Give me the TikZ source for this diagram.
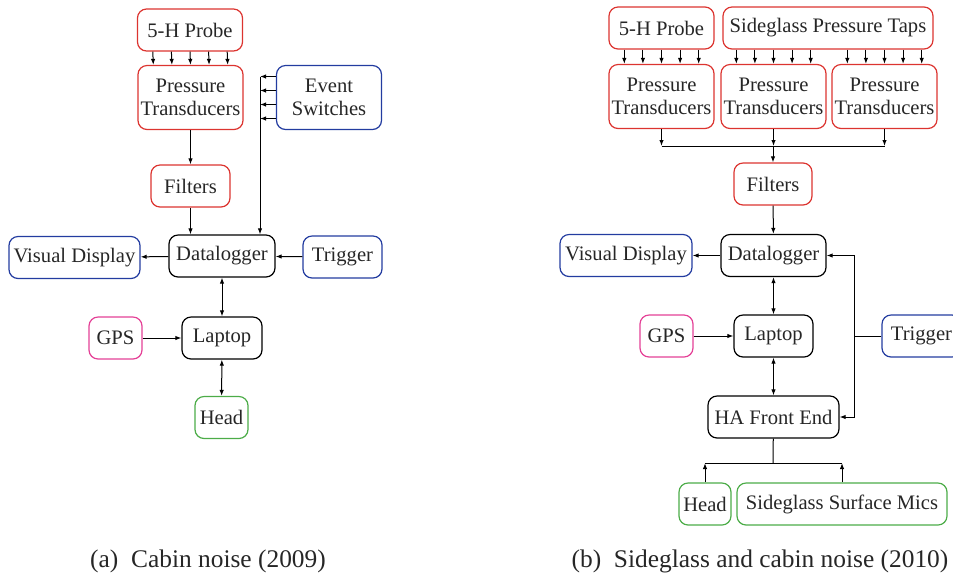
\documentclass[tikz,border=0pt]{standalone}
\usepackage{fontspec}
\setmainfont{Liberation Serif}
\usetikzlibrary{arrows.meta}
\definecolor{boxred}{RGB}{220,52,48}
\definecolor{boxblue}{RGB}{35,60,160}
\definecolor{boxpink}{RGB}{228,64,150}
\definecolor{boxgreen}{RGB}{76,172,72}

\begin{document}
\begin{tikzpicture}[
  x=0.5pt,
  y=-0.5pt,
  unit/.style={
    draw,
    rounded corners=4.5pt,
    line width=0.6pt,
    align=center,
    inner sep=1pt,
    minimum height=21pt,
    text=black!85,
    font=\fontsize{10.3}{11.3}\selectfont
  },
  tall/.style={minimum height=32pt},
  sensor/.style={unit, draw=boxred},
  signal/.style={unit, draw=boxblue},
  locator/.style={unit, draw=boxpink},
  acoustic/.style={unit, draw=boxgreen},
  arrow/.style={-{Latex[length=3pt,width=2.2pt]}, line width=0.5pt},
  twoway/.style={{Latex[length=3pt,width=2.2pt]}-{Latex[length=3pt,width=2.2pt]}, line width=0.5pt},
  caption/.style={text=black!85, font=\fontsize{12.7}{14}\selectfont}
]
\useasboundingbox (0,0) rectangle (953,575);

\node[sensor, minimum width=52.5pt] (probeA) at (190,30) {5-H Probe};
\node[sensor, tall, minimum width=52.5pt] (ptA) at (190.5,97.5) {Pressure\\Transducers};
\node[signal, tall, minimum width=52.5pt] (eventA) at (329,97.5) {Event\\Switches};
\node[sensor, minimum width=39.5pt] (filterA) at (190.5,186) {Filters};
\node[unit, minimum width=53pt] (dlA) at (222,256) {Datalogger};
\node[signal, minimum width=65.5pt] (visA) at (74.5,257.5) {Visual Display};
\node[signal, minimum width=39.5pt] (trigA) at (342.5,257) {Trigger};
\node[unit, minimum width=40pt] (lapA) at (222,338) {Laptop};
\node[locator, minimum width=26.5pt] (gpsA) at (115.5,338) {GPS};
\node[acoustic, minimum width=26.5pt] (headA) at (221.5,417.5) {Head};
\coordinate (evtop) at (260,77);

\foreach \i in {-2,...,2}
  \draw[arrow] ([xshift=\i*9.3pt]probeA.south) -- ([xshift=\i*9.3pt]ptA.north);
\foreach \d in {-10.5,-3.5,3.5,10.5}
  \draw[arrow] ([yshift=\d pt]eventA.west) -- ([yshift=\d pt]eventA.west -| evtop);
\draw[arrow] (evtop) -- (evtop |- dlA.north);
\draw[arrow] (ptA) -- (filterA);
\draw[arrow] (filterA) -- (filterA |- dlA.north);
\draw[arrow] (dlA) -- (visA);
\draw[arrow] (trigA) -- (dlA);
\draw[twoway] (dlA) -- (lapA);
\draw[arrow] (gpsA) -- (lapA);
\draw[twoway] (lapA) -- (headA);

\node[sensor, minimum width=52.5pt] (probeB) at (661.5,28) {5-H Probe};
\node[sensor, minimum width=105pt] (tapsB) at (828,28) {Sideglass Pressure Taps};
\node[sensor, tall, minimum width=52.5pt] (pt1B) at (661.5,96.5) {Pressure\\Transducers};
\node[sensor, tall, minimum width=52.5pt] (pt2B) at (773.5,96.5) {Pressure\\Transducers};
\node[sensor, tall, minimum width=52.5pt] (pt3B) at (884.5,96.5) {Pressure\\Transducers};
\node[sensor, minimum width=39pt] (filterB) at (773,184) {Filters};
\node[unit, minimum width=52.5pt] (dlB) at (773.5,255.5) {Datalogger};
\node[signal, minimum width=66pt] (visB) at (626,255.5) {Visual Display};
\node[signal, minimum width=39.5pt] (trigB) at (921.5,336) {Trigger};
\node[unit, minimum width=39.5pt] (lapB) at (773.5,336) {Laptop};
\node[locator, minimum width=26.5pt] (gpsB) at (666.5,336) {GPS};
\node[unit, minimum width=65.5pt] (haB) at (773.5,417) {HA Front End};
\node[acoustic, minimum width=26pt] (headB) at (705,504) {Head};
\node[acoustic, minimum width=105pt] (micsB) at (842,504) {Sideglass Surface Mics};
\coordinate (busB) at (773,146);
\coordinate (trigbus) at (854,336);
\coordinate (micbus) at (773,463);

\foreach \i in {-2,...,2} {
  \draw[arrow] ([xshift=\i*9.3pt]probeB.south) -- ([xshift=\i*9.3pt]pt1B.north);
  \draw[arrow] ([xshift=\i*9.3pt]pt2B.north |- tapsB.south) -- ([xshift=\i*9.3pt]pt2B.north);
  \draw[arrow] ([xshift=\i*9.3pt]pt3B.north |- tapsB.south) -- ([xshift=\i*9.3pt]pt3B.north);
}
\foreach \p in {pt1B,pt2B,pt3B}
  \draw[arrow] (\p.south) -- (\p.south |- busB);
\draw[line width=0.5pt] (pt1B.south |- busB) -- (pt3B.south |- busB);
\draw[arrow] (busB) -- (filterB);
\draw[arrow] (filterB) -- (dlB);
\draw[arrow] (dlB) -- (visB);
\draw[twoway] (dlB) -- (lapB);
\draw[arrow] (gpsB) -- (lapB);
\draw[twoway] (lapB) -- (haB);
\draw[line width=0.5pt] (trigB) -- (trigbus);
\draw[arrow] (trigbus) |- (dlB.east);
\draw[arrow] (trigbus) |- (haB.east);
\draw[line width=0.5pt] (haB) -- (micbus);
\draw[line width=0.5pt] (headB.north |- micbus) -- (micsB.north |- micbus);
\draw[arrow] (headB) -- (headB.north |- micbus);
\draw[arrow] (micsB) -- (micsB.north |- micbus);

\node[caption] (capA) at (208,561) {(a)\enspace Cabin noise (2009)};
\node[caption] (capB) at (760,561) {(b)\enspace Sideglass and cabin noise (2010)};
\end{tikzpicture}
\end{document}
